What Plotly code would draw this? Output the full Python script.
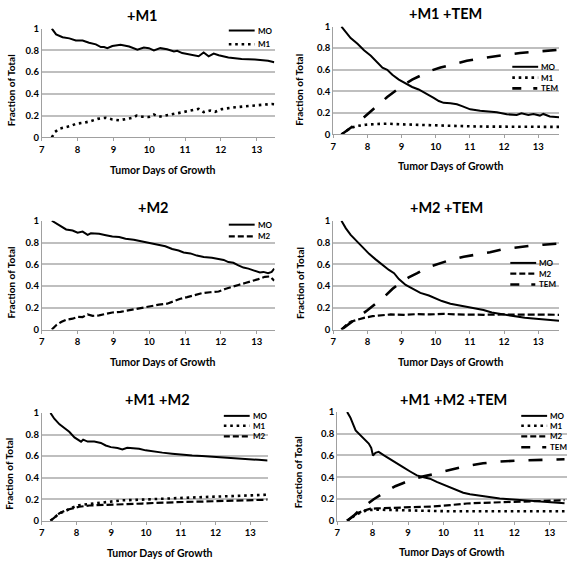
import plotly.graph_objects as go

W, H = 567, 566
FONT = "Lato"

# ---------------- data ----------------
# Panel 1: +M1
p1_mo_x = [7.28, 7.40, 7.58, 7.77, 7.95, 8.14, 8.32, 8.51, 8.65, 8.74, 8.83, 8.97, 9.20, 9.44, 9.67, 9.85, 9.99,
           10.13, 10.31, 10.50, 10.69, 10.78, 10.92, 11.19, 11.38, 11.52, 11.66, 11.80, 11.94, 12.21, 12.58,
           12.95, 13.32, 13.49]
p1_mo_y = [1.0, 0.946, 0.92, 0.91, 0.89, 0.89, 0.87, 0.855, 0.83, 0.83, 0.82, 0.84, 0.85, 0.835, 0.805, 0.825,
           0.82, 0.80, 0.82, 0.81, 0.79, 0.795, 0.775, 0.76, 0.745, 0.78, 0.745, 0.77, 0.755, 0.735, 0.72, 0.715,
           0.705, 0.69]
p1_m1_x = [7.28, 7.37, 7.49, 7.68, 7.81, 7.95, 8.19, 8.37, 8.56, 8.79, 8.97, 9.16, 9.39, 9.53, 9.65, 9.81, 9.99,
           10.13, 10.27, 10.45, 10.64, 10.92, 11.15, 11.38, 11.52, 11.70, 11.84, 12.03, 12.40, 12.77, 13.14,
           13.42, 13.49]
p1_m1_y = [0.0, 0.05, 0.08, 0.095, 0.105, 0.125, 0.135, 0.15, 0.17, 0.18, 0.165, 0.157, 0.17, 0.18, 0.2, 0.19,
           0.187, 0.21, 0.19, 0.2, 0.217, 0.23, 0.247, 0.262, 0.232, 0.247, 0.235, 0.26, 0.277, 0.29, 0.298,
           0.307, 0.305]

# Panel 2: +M1 +TEM
p2_mo_x = [7.24, 7.37, 7.51, 7.71, 7.90, 8.10, 8.29, 8.44, 8.58, 8.73, 8.92, 9.12, 9.31, 9.50, 9.75, 9.94,
           10.09, 10.23, 10.43, 10.62, 10.77, 11.01, 11.30, 11.50, 11.79, 12.08, 12.37, 12.51, 12.71, 12.86,
           13.05, 13.15, 13.34, 13.61]
p2_mo_y = [1.0, 0.945, 0.894, 0.84, 0.78, 0.73, 0.67, 0.62, 0.60, 0.553, 0.508, 0.47, 0.44, 0.417, 0.377,
           0.34, 0.31, 0.293, 0.29, 0.28, 0.263, 0.233, 0.22, 0.215, 0.205, 0.187, 0.18, 0.196, 0.18, 0.19,
           0.175, 0.19, 0.166, 0.16]
p2_m1_x = [7.24, 7.37, 7.51, 7.71, 7.95, 8.29, 8.58, 8.97, 9.46, 9.94, 10.43, 10.91, 11.40, 11.88, 12.37,
           12.85, 13.61]
p2_m1_y = [0.0, 0.03, 0.06, 0.079, 0.09, 0.097, 0.1, 0.094, 0.088, 0.082, 0.079, 0.076, 0.073, 0.073, 0.07,
           0.07, 0.07]
p2_tem_x = [7.24, 7.42, 7.61, 7.85, 8.10, 8.34, 8.58, 8.83, 9.07, 9.31, 9.55, 9.84, 10.14, 10.52, 10.91,
            11.30, 11.69, 12.08, 12.47, 12.85, 13.24, 13.61]
p2_tem_y = [0.0, 0.04, 0.085, 0.145, 0.21, 0.28, 0.347, 0.408, 0.462, 0.508, 0.547, 0.59, 0.62, 0.65, 0.683,
            0.704, 0.725, 0.74, 0.755, 0.764, 0.776, 0.785]

# Panel 3: +M2
p3_mo_x = [7.28, 7.40, 7.54, 7.68, 7.86, 8.00, 8.14, 8.28, 8.37, 8.60, 8.79, 8.97, 9.16, 9.34, 9.57, 9.81,
           10.04, 10.27, 10.45, 10.64, 10.82, 10.96, 11.15, 11.33, 11.52, 11.75, 11.94, 12.08, 12.21, 12.35,
           12.49, 12.63, 12.77, 12.91, 13.09, 13.19, 13.32, 13.42, 13.49]
p3_mo_y = [1.0, 0.976, 0.946, 0.92, 0.91, 0.89, 0.9, 0.87, 0.885, 0.88, 0.867, 0.855, 0.85, 0.834, 0.825,
           0.807, 0.79, 0.774, 0.765, 0.74, 0.726, 0.708, 0.7, 0.68, 0.666, 0.66, 0.648, 0.64, 0.62, 0.614,
           0.59, 0.57, 0.56, 0.545, 0.524, 0.53, 0.518, 0.53, 0.56]
p3_m2_x = [7.28, 7.40, 7.54, 7.68, 7.86, 8.00, 8.14, 8.28, 8.42, 8.60, 8.79, 8.97, 9.20, 9.44, 9.67, 9.90,
           10.08, 10.27, 10.50, 10.69, 10.87, 11.06, 11.29, 11.47, 11.70, 11.94, 12.12, 12.31, 12.49, 12.68,
           12.86, 13.05, 13.23, 13.37, 13.49]
p3_m2_y = [0.0, 0.04, 0.07, 0.09, 0.1, 0.117, 0.115, 0.14, 0.126, 0.13, 0.145, 0.157, 0.163, 0.178, 0.193,
           0.208, 0.223, 0.229, 0.238, 0.262, 0.283, 0.298, 0.32, 0.334, 0.343, 0.35, 0.373, 0.389, 0.41,
           0.428, 0.443, 0.464, 0.485, 0.488, 0.45]

# Panel 4: +M2 +TEM
p4_mo_x = [7.24, 7.37, 7.51, 7.66, 7.85, 8.05, 8.24, 8.44, 8.63, 8.78, 8.92, 9.12, 9.36, 9.55, 9.80, 9.99,
           10.18, 10.43, 10.67, 10.91, 11.16, 11.40, 11.64, 11.88, 12.13, 12.37, 12.61, 12.85, 13.15, 13.44,
           13.61]
p4_mo_y = [1.0, 0.93, 0.87, 0.82, 0.765, 0.696, 0.645, 0.593, 0.548, 0.518, 0.464, 0.41, 0.373, 0.337,
           0.313, 0.289, 0.262, 0.238, 0.223, 0.205, 0.193, 0.18, 0.157, 0.145, 0.127, 0.114, 0.108, 0.102,
           0.096, 0.087, 0.081]
p4_m2_x = [7.24, 7.37, 7.51, 7.71, 7.90, 8.15, 8.39, 8.68, 9.07, 9.46, 9.84, 10.23, 10.62, 11.01, 11.40,
           11.98, 12.56, 13.15, 13.61]
p4_m2_y = [0.0, 0.04, 0.072, 0.093, 0.108, 0.123, 0.133, 0.139, 0.136, 0.142, 0.139, 0.145, 0.139, 0.136,
           0.136, 0.139, 0.136, 0.136, 0.136]
p4_tem_x = [7.24, 7.42, 7.61, 7.81, 8.00, 8.24, 8.49, 8.73, 8.97, 9.21, 9.46, 9.75, 10.04, 10.43, 10.82,
            11.20, 11.59, 11.98, 12.37, 12.76, 13.15, 13.61]
p4_tem_y = [0.0, 0.04, 0.087, 0.133, 0.178, 0.238, 0.30, 0.373, 0.434, 0.48, 0.518, 0.57, 0.60, 0.64, 0.67,
            0.69, 0.71, 0.74, 0.756, 0.77, 0.78, 0.79]

# Panel 5: +M1 +M2
p5_mo_x = [7.25, 7.36, 7.51, 7.65, 7.79, 7.94, 8.03, 8.13, 8.19, 8.32, 8.51, 8.70, 8.84, 8.99, 9.18, 9.32,
           9.46, 9.66, 9.80, 9.99, 10.23, 10.47, 10.75, 11.04, 11.33, 11.61, 11.90, 12.19, 12.57, 12.95,
           13.24, 13.50]
p5_mo_y = [1.0, 0.946, 0.894, 0.858, 0.825, 0.773, 0.752, 0.734, 0.752, 0.734, 0.734, 0.722, 0.698, 0.683,
           0.674, 0.662, 0.677, 0.674, 0.668, 0.653, 0.64, 0.632, 0.622, 0.612, 0.605, 0.60, 0.595, 0.585,
           0.578, 0.57, 0.565, 0.56]
p5_m1_x = [7.25, 7.36, 7.51, 7.70, 7.89, 8.08, 8.32, 8.56, 8.80, 9.03, 9.32, 9.61, 9.99, 10.37, 10.75,
           11.23, 11.61, 12.09, 12.57, 13.05, 13.50]
p5_m1_y = [0.0, 0.033, 0.07, 0.094, 0.124, 0.145, 0.154, 0.163, 0.17, 0.184, 0.19, 0.193, 0.2, 0.205, 0.208,
           0.215, 0.218, 0.224, 0.23, 0.236, 0.242]
p5_m2_x = [7.25, 7.36, 7.51, 7.70, 7.89, 8.08, 8.37, 8.75, 9.13, 9.51, 9.89, 10.28, 10.66, 11.14, 11.61,
           12.09, 12.57, 13.05, 13.50]
p5_m2_y = [0.0, 0.033, 0.07, 0.1, 0.118, 0.13, 0.142, 0.145, 0.151, 0.154, 0.16, 0.166, 0.172, 0.175, 0.178,
           0.184, 0.187, 0.19, 0.196]

# Panel 6: +M1 +M2 +TEM
p6_mo_x = [7.28, 7.37, 7.52, 7.61, 7.75, 7.89, 7.96, 8.01, 8.08, 8.17, 8.31, 8.50, 8.69, 8.87, 9.06, 9.25,
           9.44, 9.62, 9.81, 10.00, 10.19, 10.37, 10.56, 10.75, 10.94, 11.12, 11.36, 11.59, 11.87, 12.15,
           12.44, 12.72, 13.00, 13.19, 13.42]
p6_mo_y = [1.0, 0.95, 0.83, 0.8, 0.754, 0.71, 0.67, 0.6, 0.625, 0.634, 0.604, 0.568, 0.529, 0.49, 0.453,
           0.417, 0.4, 0.387, 0.357, 0.333, 0.309, 0.282, 0.258, 0.243, 0.234, 0.222, 0.213, 0.204, 0.198,
           0.192, 0.186, 0.183, 0.177, 0.171, 0.162]
p6_m1_x = [7.28, 7.42, 7.56, 7.75, 7.94, 8.12, 8.41, 8.78, 9.25, 9.72, 10.19, 11.12, 12.06, 13.00, 13.42]
p6_m1_y = [0.0, 0.033, 0.063, 0.087, 0.1, 0.102, 0.1, 0.093, 0.09, 0.087, 0.087, 0.087, 0.087, 0.087, 0.087]
p6_m2_x = [7.28, 7.42, 7.56, 7.75, 7.94, 8.12, 8.41, 8.78, 9.25, 9.72, 10.19, 10.66, 11.12, 11.59, 12.06,
           12.53, 13.00, 13.42]
p6_m2_y = [0.0, 0.033, 0.069, 0.093, 0.111, 0.114, 0.117, 0.12, 0.126, 0.132, 0.144, 0.159, 0.165, 0.171,
           0.177, 0.183, 0.186, 0.189]
p6_tem_x = [7.28, 7.47, 7.66, 7.84, 8.03, 8.22, 8.41, 8.64, 8.87, 9.16, 9.44, 9.72, 10.00, 10.28, 10.66,
            11.12, 11.59, 12.06, 12.53, 13.00, 13.42]
p6_tem_y = [0.0, 0.048, 0.108, 0.153, 0.198, 0.237, 0.273, 0.318, 0.348, 0.387, 0.408, 0.429, 0.453, 0.474,
            0.504, 0.528, 0.544, 0.553, 0.559, 0.562, 0.565]

panel_titles = ["+M1", "+M1 +TEM", "+M2", "+M2 +TEM", "+M1 +M2", "+M1 +M2 +TEM"]
panel_series = [
    [("MO", p1_mo_x, p1_mo_y), ("M1", p1_m1_x, p1_m1_y)],
    [("MO", p2_mo_x, p2_mo_y), ("M1", p2_m1_x, p2_m1_y), ("TEM", p2_tem_x, p2_tem_y)],
    [("MO", p3_mo_x, p3_mo_y), ("M2", p3_m2_x, p3_m2_y)],
    [("MO", p4_mo_x, p4_mo_y), ("M2", p4_m2_x, p4_m2_y), ("TEM", p4_tem_x, p4_tem_y)],
    [("MO", p5_mo_x, p5_mo_y), ("M1", p5_m1_x, p5_m1_y), ("M2", p5_m2_x, p5_m2_y)],
    [("MO", p6_mo_x, p6_mo_y), ("M1", p6_m1_x, p6_m1_y), ("M2", p6_m2_x, p6_m2_y),
     ("TEM", p6_tem_x, p6_tem_y)],
]
x_tick_vals = [7, 8, 9, 10, 11, 12, 13]
y_tick_vals = [0, 0.2, 0.4, 0.6, 0.8, 1]
y_tick_text = ["0", "0.2", "0.4", "0.6", "0.8", "1"]
x_title = "Tumor Days of Growth"
y_title = "Fraction of Total"

# ---------------- styling / layout (pixels) ----------------
line_styles = {
    "MO": dict(color="black", width=2),
    "M1": dict(color="black", width=2.6, dash="2.6px,3.8px"),
    "M2": dict(color="black", width=2.2, dash="7px,3px"),
    "TEM": dict(color="black", width=2.6, dash="14px,14px"),
}
legend_dash = {"MO": "solid", "M1": "2.6px,3.8px", "M2": "6px,3px", "TEM": "9px,12px,4px,40px"}

# plot area in pixels: (left, right, top, bottom), x-range max
plot_boxes = [
    (39, 273, 23, 134, 13.5),
    (332, 559, 21, 131, 13.61),
    (39, 273, 219, 330, 13.5),
    (332, 559, 219, 330, 13.61),
    (39, 266, 415, 525, 13.5),
    (336, 567, 414, 525, 13.49),
]
title_pos = [(140, 10), (445, 8), (151, 206), (446, 205), (155, 401), (453, 401)]
xtitle_pos = [(161, 167), (450, 163), (161, 363), (450, 363), (158, 558), (451, 557)]
ytitle_pos = [(8, 86), (298, 85), (8, 282), (298, 282), (6, 477), (296, 475)]
legend_text_x = [255, 540, 255, 538, 250, 549]
legend_rows = [[25, 39], [62, 73, 84], [223, 235], [262, 273, 284], [418, 428, 439], [418, 428, 439, 450]]

GRID = "#BFBFBF"
AXIS = "#A0A0A0"


def px_x(v):
    return v / W


def px_y(v):
    return 1 - v / H


fig = go.Figure()
layout = dict(
    width=W, height=H, margin=dict(l=0, r=0, t=0, b=0),
    paper_bgcolor="white", plot_bgcolor="white",
    font=dict(family=FONT, color="black"),
    showlegend=False,
)
annotations = []
shapes = []

for i, (title, series) in enumerate(zip(panel_titles, panel_series)):
    k = i + 1
    suf = "" if k == 1 else str(k)
    left, right, top, bottom, xmax = plot_boxes[i]
    layout["xaxis" + suf] = dict(
        domain=[px_x(left), px_x(right)], range=[7, xmax], anchor="y" + suf,
        tickvals=x_tick_vals, ticks="outside", ticklen=3, tickcolor=AXIS,
        showline=True, linecolor=AXIS, linewidth=1, showgrid=False, zeroline=False,
        tickfont=dict(family=FONT, size=9.5, weight="bold", color="black"),
    )
    layout["yaxis" + suf] = dict(
        domain=[px_y(bottom), px_y(top)], range=[0, 1], anchor="x" + suf,
        tickvals=y_tick_vals, ticktext=y_tick_text, ticks="",
        showline=True, linecolor=AXIS, linewidth=1, showgrid=True, gridcolor=GRID, gridwidth=1.5,
        zeroline=False,
        tickfont=dict(family=FONT, size=9.5, weight="bold", color="black"),
    )
    for j, (name, xs, ys) in enumerate(series):
        fig.add_trace(go.Scatter(
            x=xs, y=ys, mode="lines", name=name, line=line_styles[name],
            xaxis="x" + suf, yaxis="y" + suf,
        ))
        # legend entry: style sample + label
        tx = legend_text_x[i]
        ry = legend_rows[i][j]
        shapes.append(dict(type="line", xref="paper", yref="paper",
                           x0=px_x(tx - 28), x1=px_x(tx - 2), y0=px_y(ry), y1=px_y(ry),
                           line=dict(color="black", width=line_styles[name]["width"],
                                     dash=legend_dash[name])))
        annotations.append(dict(text=name, x=px_x(tx - 1), y=px_y(ry), xref="paper", yref="paper",
                                showarrow=False, xanchor="left", yanchor="middle",
                                font=dict(family=FONT, size=8, weight="bold", color="black")))
    tx, ty = title_pos[i]
    annotations.append(dict(text=title, x=px_x(tx), y=px_y(ty), xref="paper", yref="paper",
                            showarrow=False, xanchor="center", yanchor="middle",
                            font=dict(family=FONT, size=14.5, weight="bold", color="black")))
    ax_, ay_ = xtitle_pos[i]
    annotations.append(dict(text=x_title, x=px_x(ax_), y=px_y(ay_), xref="paper", yref="paper",
                            showarrow=False, xanchor="center", yanchor="middle",
                            font=dict(family=FONT, size=10.5, weight="bold", color="black")))
    yx, yy = ytitle_pos[i]
    annotations.append(dict(text=y_title, x=px_x(yx), y=px_y(yy), xref="paper", yref="paper",
                            showarrow=False, xanchor="center", yanchor="middle", textangle=-90,
                            font=dict(family=FONT, size=10, weight="bold", color="black")))

layout["annotations"] = annotations
layout["shapes"] = shapes
fig.update_layout(**layout)
fig.write_html(
    "out.html",
    config={"displayModeBar": False},
    post_script="document.body.style.margin='0';document.body.style.padding='0';"
                "document.documentElement.style.overflow='hidden';",
)
